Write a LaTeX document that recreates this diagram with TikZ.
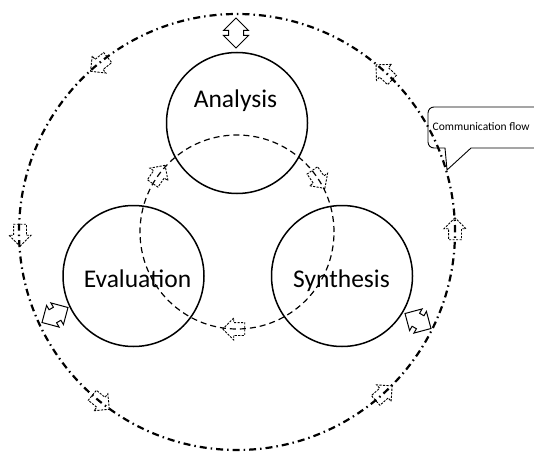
\documentclass[tikz,border=0pt]{standalone}
\usepackage{fontspec}
\setmainfont{Carlito}
\usetikzlibrary{shapes.arrows,calc}
\begin{document}
\begin{tikzpicture}[x=1pt,y=1pt,
  phase/.style={circle,draw,line width=1.5pt,minimum size=141pt,inner sep=0pt},
  phasetext/.style={anchor=base,inner sep=0pt,font=\fontsize{25.5}{30}\selectfont},
  outerring/.style={line width=2.2pt,dash pattern=on 7pt off 4pt on 1.5pt off 4pt},
  innerring/.style={line width=1.2pt,dash pattern=on 6pt off 4pt},
  dblarrow/.style={double arrow,draw,fill=white,line width=1pt,
    minimum height=30pt,double arrow head extend=5pt,inner xsep=0pt,inner ysep=7pt},
  flowarrow/.style={single arrow,draw,dash pattern=on 2.2pt off 1.3pt,line width=0.9pt,
    minimum height=22pt,single arrow head extend=4.5pt,inner xsep=0pt,inner ysep=6pt},
  callout/.style={draw,line width=0.9pt},
]
\useasboundingbox (0,0) rectangle (534,453);
\clip (0,0) rectangle (534,453);
\coordinate (O) at (237,221);

% flow arrows on the outer ring (counter-clockwise)
\node[flowarrow,rotate=218.6] (o1) at ($(O)+(128.6:217)$) {};
\node[flowarrow,rotate=136.5] (o2) at ($(O)+(46.5:217)$) {};
\node[flowarrow,rotate=90]    (o3) at ($(O)+(0:218)$) {};
\node[flowarrow,rotate=270]   (o4) at ($(O)+(180:217)$) {};
\node[flowarrow,rotate=41.5]  (o5) at ($(O)+(-48.5:218)$) {};
\node[flowarrow,rotate=-39.5] (o6) at ($(O)+(-129.5:218)$) {};

% flow arrows on the inner ring (clockwise)
\node[flowarrow,rotate=55.5]  (i1) at ($(O)+(145.5:97)$) {};
\node[flowarrow,rotate=-55.3] (i2) at ($(O)+(34.7:97)$) {};
\node[flowarrow,rotate=180]   (i3) at ($(O)+(-90:97)$) {};

% rings
\draw[outerring] (O) circle[radius=218];
\draw[innerring] (O) circle[radius=97];

% phases
\node[phase] (ana) at (237,330) {};
\node[phase] (eva) at (133.5,177) {};
\node[phase] (syn) at (342,177) {};
\node[phasetext] (anat) at (235.5,345) {Analysis};
\node[phasetext] (evat) at (137.5,166) {Evaluation};
\node[phasetext] (synt) at (341.5,166) {Synthesis};

% exchange arrows between outer ring and phases
\node[dblarrow,rotate=90]  (d1) at (236,420) {};
\node[dblarrow,rotate=30]  (d2) at (55,138) {};
\node[dblarrow,rotate=-30] (d3) at (418,132) {};

% callout
\draw[callout] (447,283) -- (445,305) -- (434,305)
  arc[start angle=270,end angle=180,radius=6] -- (428,340)
  arc[start angle=180,end angle=90,radius=6] -- (545,346) -- (545,305)
  -- (471,305) -- cycle;
\node[anchor=west,inner sep=0pt,font=\fontsize{11.5}{13}\selectfont] (cf) at (432.5,326) {Communication flow};
\end{tikzpicture}
\end{document}
